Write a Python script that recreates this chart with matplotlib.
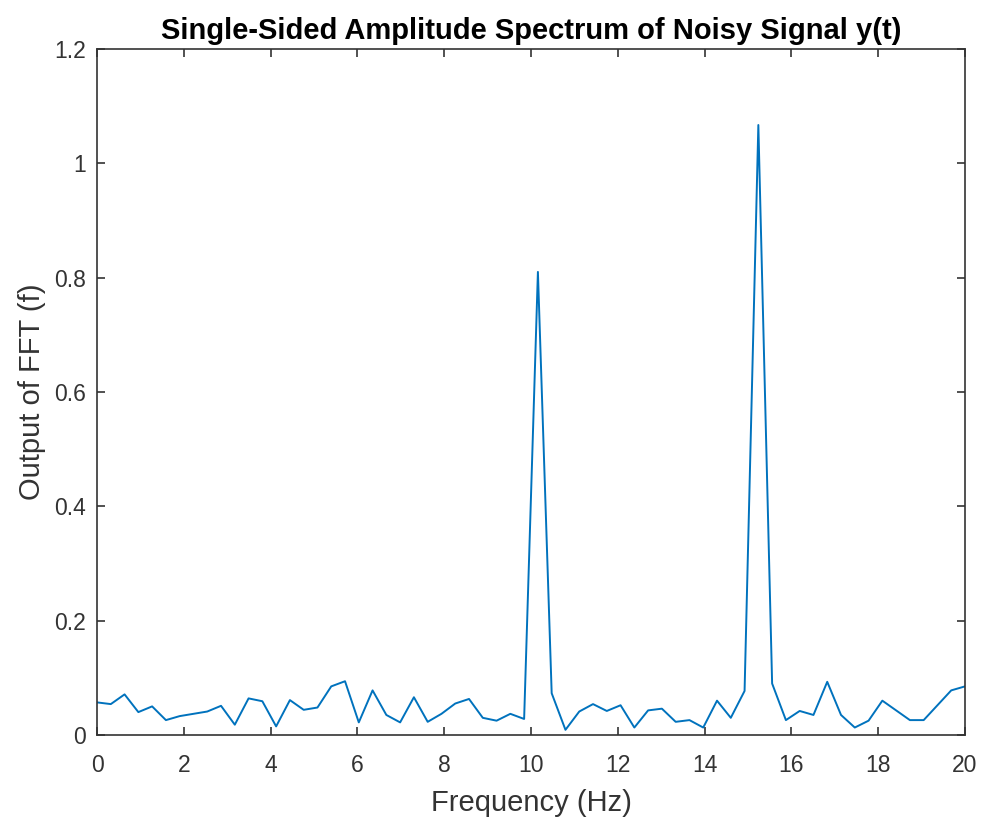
"""Single-sided amplitude spectrum of a noisy signal, MATLAB-style look."""
import matplotlib
matplotlib.use("Agg")
import matplotlib.pyplot as plt
from matplotlib.ticker import FormatStrFormatter, MultipleLocator

# frequency bins: 64 points from 0 to 20 Hz
n_bins = 64
freq_max = 20.0
freqs = [k * freq_max / (n_bins - 1) for k in range(n_bins)]

# amplitude
amplitude = [
    0.057, 0.054, 0.071, 0.040, 0.050, 0.026, 0.033, 0.037, 0.041, 0.051,
    0.018, 0.064, 0.059, 0.015, 0.061, 0.044, 0.048, 0.085, 0.094, 0.022,
    0.078, 0.035, 0.022, 0.066, 0.023, 0.037, 0.055, 0.063, 0.030, 0.025,
    0.037, 0.028, 0.810, 0.073, 0.009, 0.041, 0.054, 0.042, 0.052, 0.013,
    0.043, 0.046, 0.023, 0.026, 0.013, 0.060, 0.030, 0.077, 1.067, 0.090,
    0.026, 0.042, 0.035, 0.093, 0.035, 0.013, 0.025, 0.060, 0.043, 0.026,
    0.026, 0.052, 0.078, 0.085,
]

x_ticks = list(range(0, 21, 2))

plt.rcParams["font.family"] = ["Liberation Sans", "DejaVu Sans"]
axis_color = "#333333"

fig = plt.figure(figsize=(9.82, 8.19), dpi=100)
ax = fig.add_axes([0.0988, 0.1026, 0.8839, 0.8376])

ax.plot(freqs, amplitude, color="#0072BD", lw=1.4)

ax.set_xlim(0, 20)
ax.set_ylim(0, 1.2)
ax.set_xticks(x_ticks)
ax.yaxis.set_major_locator(MultipleLocator(0.2))
ax.yaxis.set_major_formatter(FormatStrFormatter("%g"))

ax.tick_params(direction="in", top=True, right=True, length=6, width=1.2,
               colors=axis_color, labelsize=16.5)
ax.tick_params(axis="x", pad=14)
ax.tick_params(axis="y", pad=8)
for spine in ax.spines.values():
    spine.set_color(axis_color)
    spine.set_linewidth(1.2)

ax.set_xlabel("Frequency (Hz)", fontsize=21, color=axis_color, labelpad=8)
ax.set_ylabel("Output of FFT (f)", fontsize=21, color=axis_color, labelpad=6)
ax.set_title("Single-Sided Amplitude Spectrum of Noisy Signal y(t)",
             fontsize=21, fontweight="bold", color="black", pad=7)

fig.savefig("out.png", dpi=100)
